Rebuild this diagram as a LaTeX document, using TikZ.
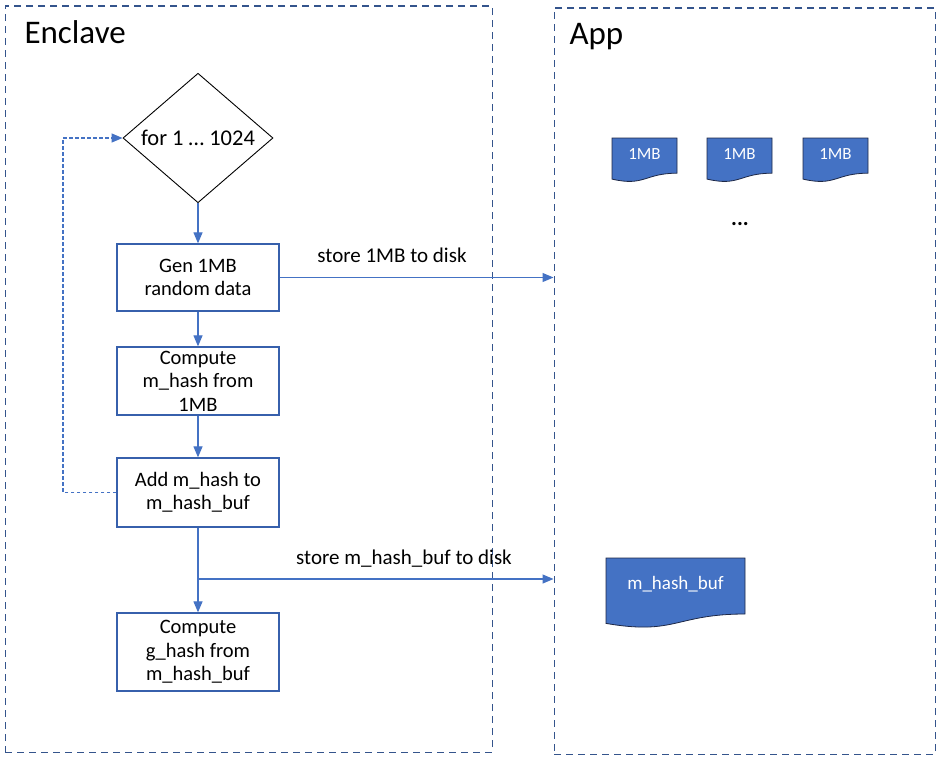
\documentclass[tikz,border=0pt]{standalone}
\usepackage{fontspec}
\setmainfont{Carlito}
\usetikzlibrary{arrows.meta,shapes.geometric,calc}
\definecolor{lineblue}{RGB}{68,114,196}
\definecolor{boxblue}{RGB}{55,96,172}
\definecolor{frameblue}{RGB}{52,84,140}
\definecolor{docfill}{RGB}{68,114,196}
\definecolor{docedge}{RGB}{30,40,70}
\tikzset{
  frame/.style={draw=frameblue, line width=1.1pt, dash pattern=on 7pt off 5pt},
  stepbox/.style={draw=boxblue, line width=1.3pt, fill=white, minimum width=162pt, align=center,
    font=\fontsize{20.5}{23.5}\selectfont, inner sep=0pt},
  flow/.style={draw=lineblue, line width=1.2pt, -{Triangle[length=11pt,width=9pt]}},
  loopline/.style={draw=lineblue, line width=1.2pt, dash pattern=on 3.5pt off 2.5pt, -{Triangle[length=11pt,width=9pt]}},
  lbl/.style={font=\fontsize{21}{23}\selectfont, anchor=base},
  title/.style={font=\fontsize{33}{38}\selectfont, anchor=base west},
  docshape/.style={fill=docfill, draw=docedge, line width=0.8pt},
  doctext/.style={text=white},
}
\newcommand\mydoc[4]{% x y w h
  \filldraw[docshape] (#1,#2) -- ({#1+#3},#2) -- ({#1+#3},{#2+0.8*#4})
    .. controls ({#1+0.5*#3},{#2+0.8*#4}) and ({#1+0.5*#3},{#2+1.107*#4}) .. (#1,{#2+0.934*#4}) -- cycle;}
\begin{document}
\begin{tikzpicture}[x=1pt,y=-1pt]
\useasboundingbox (0,0) rectangle (941,760);
% frames
\node[frame, minimum width=487pt, minimum height=746pt, anchor=north west, inner sep=0pt] (enc) at (4.5,5.5) {};
\node[frame, minimum width=381pt, minimum height=746pt, anchor=north west, inner sep=0pt] (app) at (553.5,7.5) {};
\node[title] (enct) at (21,44) {Enclave};
\node[title] (appt) at (566,45) {App};
% flow
\node[draw=black, line width=0.9pt, diamond, minimum width=150pt, minimum height=120pt, inner sep=0pt,
  font=\fontsize{22.5}{26}\selectfont] (loop) at (198,138) {for 1 … 1024};
\node[stepbox, minimum height=67pt] (gen) at (198,277.5) {Gen 1MB\\random data};
\node[stepbox, minimum height=68pt] (comp) at (198,381) {Compute\\m\_hash from\\1MB};
\node[stepbox, minimum height=69pt] (add) at (198,492.5) {Add m\_hash to\\m\_hash\_buf};
\node[stepbox, minimum height=78pt] (gcomp) at (198,652) {Compute\\g\_hash from\\m\_hash\_buf};
\draw[flow] (loop.south) -- (gen.north);
\draw[flow] (gen.south) -- (comp.north);
\draw[flow] (comp.south) -- (add.north);
\draw[flow] (add.south) -- (gcomp.north);
\draw[loopline] (add.west) -- (63,492.5) |- (loop.west);
\coordinate (br) at (198,579);
\draw[flow] (gen.east) -- (gen.east -| app.west);
\draw[flow] (br) -- (br -| app.west);
\node[lbl] (l1) at (392,262) {store 1MB to disk};
\node[lbl] (l2) at (404,564) {store m\_hash\_buf to disk};
% documents
\mydoc{612}{138}{65}{44}
\mydoc{707}{138}{65}{44}
\mydoc{803}{138}{65}{44}
\node[doctext, font=\fontsize{17}{19}\selectfont] (d1) at (644.5,154) {1MB};
\node[doctext, font=\fontsize{17}{19}\selectfont] (d2) at (739.5,154) {1MB};
\node[doctext, font=\fontsize{17}{19}\selectfont] (d3) at (835.5,154) {1MB};
\node[font=\bfseries\fontsize{22}{24}\selectfont] (dots) at (740,224) {...};
\mydoc{606}{558}{139}{70}
\node[doctext, font=\fontsize{19}{22}\selectfont] (d4) at (675.5,584) {m\_hash\_buf};
\end{tikzpicture}
\end{document}
